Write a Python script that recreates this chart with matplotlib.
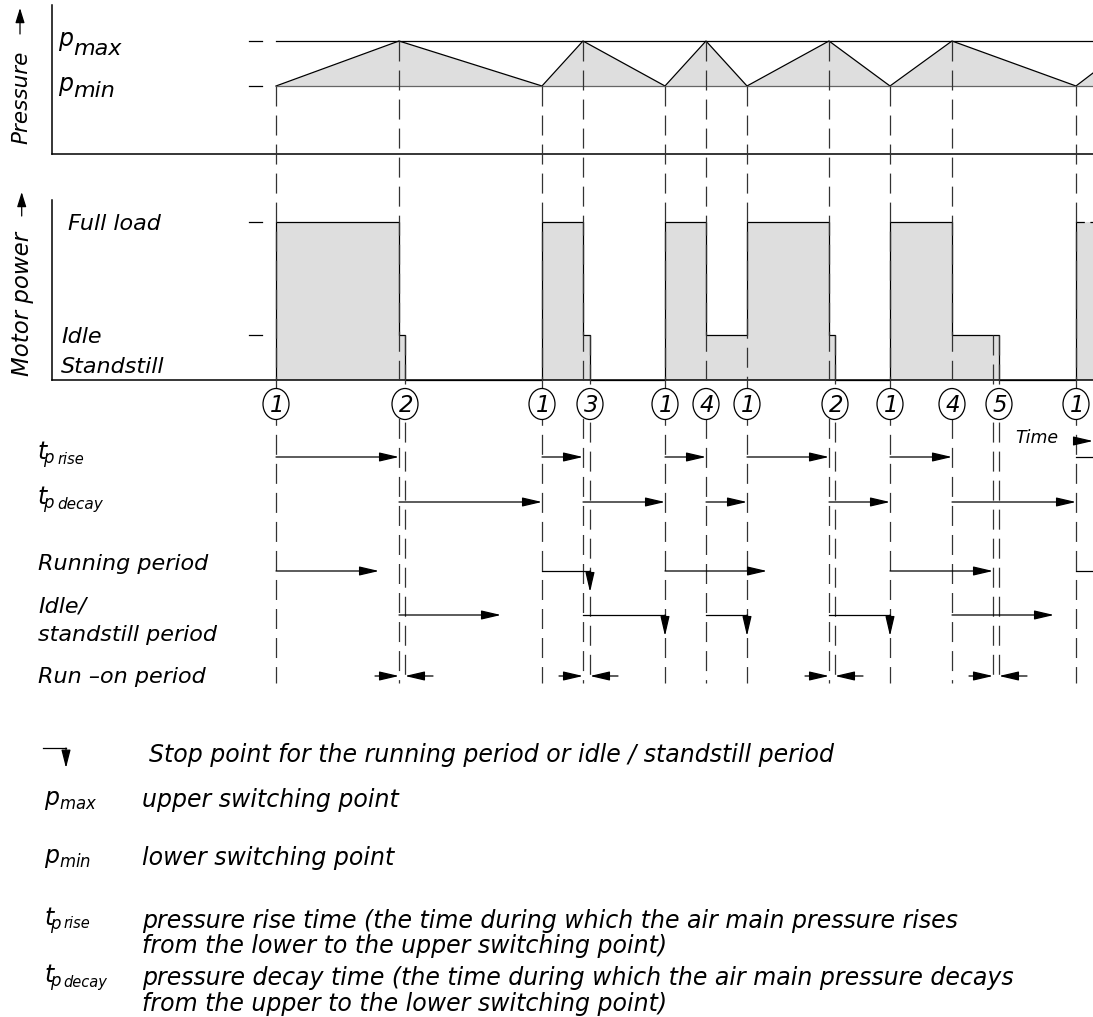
import matplotlib
matplotlib.use('Agg')
import matplotlib.pyplot as plt
from matplotlib.patches import Ellipse

plt.rcParams['font.family'] = ['DejaVu Sans']
plt.rcParams['mathtext.fontset'] = 'dejavusans'
plt.rcParams['lines.scale_dashes'] = False

# Switching events on the (schematic) time axis.
# Pressure: 0 = p_min, 1 = p_max
pressure_t = [276, 399, 542, 583, 665, 706, 747, 829, 890, 952, 1076, 1135]
pressure_v = [0, 1, 0, 1, 0, 1, 0, 1, 0, 1, 0, 1]

# Motor power: 2 = full load, 1 = idle, 0 = standstill
motor_t = [276, 276, 399, 405, 542, 583, 590, 665, 706, 747, 829, 835, 890, 952, 999, 1076]
motor_v = [0, 2, 1, 0, 2, 1, 0, 2, 1, 2, 1, 0, 2, 1, 0, 2]

# Motor stops (end of run-on) and end of running period after point 4
stop_t = [405, 590, 835, 993, 999]

# Numbered switching points
marker_t = [276, 405, 542, 590, 665, 706, 747, 835, 890, 952, 999, 1076]
marker_lbl = ['1', '2', '1', '3', '1', '4', '1', '2', '1', '4', '5', '1']

# Periods: (start, end, kind)  kind: arrow / stop / open
rise = [(276, 399, 'arrow'), (542, 583, 'arrow'), (665, 706, 'arrow'),
        (747, 829, 'arrow'), (890, 952, 'arrow'), (1076, 1093, 'open')]
decay = [(399, 542, 'arrow'), (583, 665, 'arrow'), (706, 747, 'arrow'),
         (829, 890, 'arrow'), (952, 1076, 'arrow')]
running = [(276, 379, 'arrow'), (542, 590, 'stop'), (665, 767, 'arrow'),
           (890, 993, 'arrow'), (1076, 1093, 'open')]
idle = [(399, 501, 'arrow'), (583, 665, 'stop'), (706, 747, 'stop'),
        (829, 890, 'stop'), (952, 1054, 'arrow')]
runon = [(399, 405), (583, 590), (829, 835), (993, 999)]

# Vertical layout of the drawing (pixels from top)
P_Y = {0: 86, 1: 41}
M_Y = {0: 380, 1: 335, 2: 222}
Y_RISE, Y_DECAY, Y_RUN, Y_IDLE, Y_RUNON = 457, 502, 571, 615, 676
Y_BOTTOM = 683
X_END = 1093

GREY = '#dedede'
DASH = '#333333'

fig = plt.figure(figsize=(10.93, 10.17), dpi=100)
ax = fig.add_axes([0, 0, 1, 1])
ax.set_xlim(0, 1093)
ax.set_ylim(1017, 0)
ax.axis('off')


def label(x, y, s, size=16, **kw):
    ax.text(x, y, s, fontsize=size, style='oblique', ha='left', va='center', **kw)


def varrow(x, y0, y1, hl=1.2):
    ax.annotate('', xy=(x, y1), xytext=(x, y0),
                arrowprops=dict(arrowstyle='-|>,head_length=%s,head_width=0.28' % hl,
                                mutation_scale=10, lw=0.9, color='black',
                                shrinkA=0, shrinkB=0), zorder=4)


def harrow(x0, x1, y, kind='arrow'):
    if kind in ('open', 'stop'):
        ax.plot([x0, x1], [y, y], color='black', lw=0.9, zorder=4)
        if kind == 'stop':
            varrow(x1, y, y + 21)
        return
    ax.annotate('', xy=(x1, y), xytext=(x0, y),
                arrowprops=dict(arrowstyle='-|>,head_length=1.2,head_width=0.28',
                                mutation_scale=10, lw=0.9, color='black',
                                shrinkA=0, shrinkB=0), zorder=4)


# Axes frames
ax.plot([51.7, 51.7], [5, 154], color='black', lw=1.1)
ax.plot([51.7, X_END], [154, 154], color='black', lw=1.1)
ax.plot([51.7, 51.7], [200, M_Y[0]], color='black', lw=1.1)
ax.plot([51.7, X_END], [M_Y[0], M_Y[0]], color='black', lw=1.1)

# Axis titles with arrows
ax.text(21, 97, 'Pressure', rotation=90, fontsize=15.5, style='oblique', ha='center', va='center')
varrow(20, 34, 8, hl=0.9)
ax.text(22, 304, 'Motor power', rotation=90, fontsize=16.5, style='oblique', ha='center', va='center')
varrow(21.7, 216, 192, hl=0.9)

# Level ticks
for yy in [P_Y[1], P_Y[0], M_Y[2], M_Y[1]]:
    ax.plot([249, 262], [yy, yy], color='black', lw=0.9)

# Level labels
label(58, 39, 'p', size=17)
label(73, 49, 'max')
label(58, 84, 'p', size=17)
label(73, 91, 'min')
label(68, 224, 'Full load')
label(61, 337, 'Idle')
label(61, 367, 'Standstill')

# Pressure curve
py = [P_Y[v] for v in pressure_v]
ax.fill_between(pressure_t, py, P_Y[0], color=GREY, lw=0, zorder=1)
ax.plot(pressure_t, py, color='black', lw=0.9, zorder=2)
ax.plot([pressure_t[0], X_END], [P_Y[1], P_Y[1]], color='black', lw=0.9, zorder=2)
ax.plot([pressure_t[0], X_END], [P_Y[0], P_Y[0]], color='#666666', lw=0.9, zorder=2)

# Motor power
my = [M_Y[v] for v in motor_v]
fill_t = motor_t + [X_END]
fill_y = my + [my[-1]]
ax.fill_between(fill_t, fill_y, M_Y[0], step='post', color=GREY, lw=0, zorder=1)
ax.step(motor_t, my, where='post', color='black', lw=0.9, zorder=2)
ax.plot([motor_t[-1], X_END], [my[-1], my[-1]], color='black', lw=0.9,
        dashes=(6, 4), zorder=2)

# Dashed event lines
for t, v in zip(pressure_t, pressure_v):
    if t < X_END:
        ax.plot([t, t], [P_Y[v], Y_BOTTOM], color=DASH, lw=0.9, dashes=(14.4, 6.5), zorder=3)
for t in stop_t:
    ax.plot([t, t], [M_Y[1], Y_BOTTOM], color=DASH, lw=0.9, dashes=(14.4, 6.5), zorder=3)

# Numbered circles
for t, s in zip(marker_t, marker_lbl):
    ax.add_patch(Ellipse((t, 404), 26, 31, fc='white', ec='black', lw=0.9, zorder=5))
    ax.text(t + 1, 405, s, fontsize=16.5, style='oblique', ha='center', va='center', zorder=6)

# Time label
label(1015, 438, 'Time', size=12.5)
harrow(1078, X_END, 441)

# Period rows
label(37, 455, r'$t_{\!p}$', size=17)
label(57, 459, 'rise', size=10.5)
label(37, 500, r'$t_{\!p}$', size=17)
label(57, 505, 'decay', size=11)
label(38, 564, 'Running period')
label(38, 606, 'Idle/')
label(38, 635, 'standstill period')
label(38, 677, 'Run \u2013on period')

for x0, x1, k in rise:
    harrow(x0, x1, Y_RISE, k)
for x0, x1, k in decay:
    harrow(x0, x1, Y_DECAY, k)
for x0, x1, k in running:
    harrow(x0, x1, Y_RUN, k)
for x0, x1, k in idle:
    harrow(x0, x1, Y_IDLE, k)
for x0, x1 in runon:
    harrow(x0 - 24, x0, Y_RUNON)
    harrow(x1 + 28, x1, Y_RUNON)

# Legend
ax.plot([43, 66], [748, 748], color='black', lw=0.9)
varrow(66, 748, 768, hl=1.1)
label(149, 755, 'Stop point for the running period or idle / standstill period', size=17)

label(44, 800, r'$p_{max}$', size=17)
label(142, 800, 'upper switching point', size=17)

label(44, 858, r'$p_{min}$', size=17)
label(142, 858, 'lower switching point', size=17)

label(44, 921, r'$t_{\!p}$', size=17)
label(63, 924, 'rise', size=10.5)
label(142, 921, 'pressure rise time (the time during which the air main pressure rises', size=17)
label(142, 946, 'from the lower to the upper switching point)', size=17)

label(44, 978, r'$t_{\!p}$', size=17)
label(63, 982, 'decay', size=10.5)
label(142, 978, 'pressure decay time (the time during which the air main pressure decays', size=17)
label(142, 1004, 'from the upper to the lower switching point)', size=17)

fig.savefig('out.png', dpi=100)
